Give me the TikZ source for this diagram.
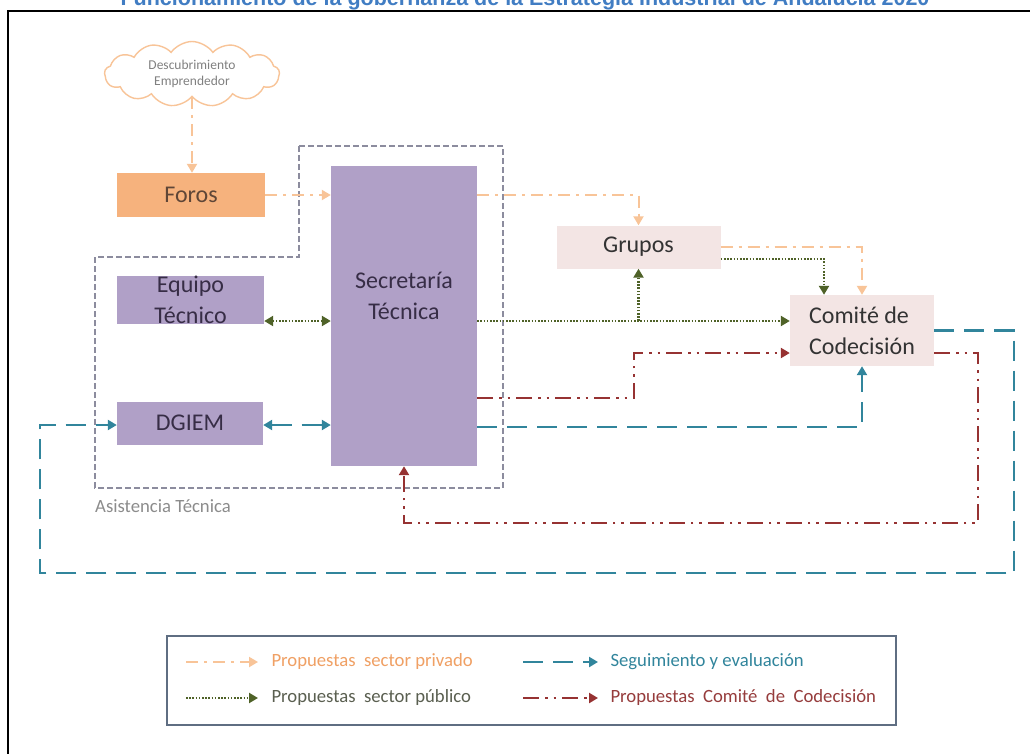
\documentclass[tikz,border=0pt]{standalone}
\usepackage{fontspec}
\setmainfont{Carlito}
\newfontfamily\titlefont{Liberation Sans}
\usetikzlibrary{shapes.symbols,arrows.meta,calc}
\definecolor{cOrange}{RGB}{248,196,152}
\definecolor{cForos}{RGB}{246,178,125}
\definecolor{cForosT}{RGB}{95,70,55}
\definecolor{cPurp}{RGB}{176,160,199}
\definecolor{cPurpT}{RGB}{55,45,70}
\definecolor{cPink}{RGB}{243,229,228}
\definecolor{cGreen}{RGB}{79,98,40}
\definecolor{cRed}{RGB}{150,50,50}
\definecolor{cTeal}{RGB}{49,133,156}
\definecolor{cGray}{RGB}{140,140,158}
\definecolor{cLeg}{RGB}{95,110,130}
\definecolor{cTitle}{RGB}{65,125,195}
\definecolor{cOrT}{RGB}{240,160,100}
\definecolor{cGrT}{RGB}{90,95,80}
\definecolor{cRdT}{RGB}{150,60,60}
\begin{document}
\begin{tikzpicture}[x=1pt,y=-1pt,
  tip/.style={-{Triangle[length=9pt,width=10pt]}},
  dtip/.style={{Triangle[length=9pt,width=10pt]}-{Triangle[length=9pt,width=10pt]}},
  priv/.style={draw=cOrange,line width=2pt,dash pattern=on 12pt off 6pt on 3pt off 6pt,tip},
  pub/.style={draw=cGreen,line width=2.2pt,dash pattern=on 1.6pt off 1.6pt,tip},
  cod/.style={draw=cRed,line width=2.5pt,dash pattern=on 16pt off 6pt on 2.5pt off 6pt on 2.5pt off 6pt,tip},
  seg/.style={draw=cTeal,line width=2.5pt,dash pattern=on 20pt off 10pt,tip},
  bigtxt/.style={font=\fontsize{24}{31}\selectfont,align=center},
  purp/.style={fill=cPurp,inner sep=0pt,text=cPurpT,bigtxt},
  pinkbox/.style={fill=cPink,inner sep=0pt,text=black!80,bigtxt},
  legtxt/.style={anchor=west,font=\fontsize{18.7}{21}\selectfont}]
\useasboundingbox (0,0) rectangle (1030,753);
\clip (0,0) rectangle (1030,753);
\fill[white] (0,0) rectangle (1030,753);
% title (cut at top, as in the reference)
\node[anchor=base,inner sep=0pt,text=cTitle,font=\titlefont\bfseries\fontsize{21.5}{24}\selectfont] (title) at (525,5) {Funcionamiento de la gobernanza de la Estrategia Industrial de Andaluc\'ia 2020};
% frame
\draw[line width=2pt] (8,760) -- (8,11) -- (1040,11);
% cloud
\node[cloud,cloud puffs=13,cloud puff arc=110,aspect=2.7,draw=cOrange,line width=1.4pt,fill=white,minimum width=175pt,minimum height=65pt,inner sep=0pt,align=center,text=black!50,font=\fontsize{13.5}{16}\selectfont] (cloud) at (192,74) {Descubrimiento\\Emprendedor};
% asistencia box
\draw[draw=cGray,line width=1.5pt,dash pattern=on 6pt off 3pt] (299,146) -- (503,146) -- (503,488) -- (95,488) -- (95,257) -- (299,257) -- cycle;
\node[anchor=west,inner sep=0pt,text=black!45,font=\fontsize{18.7}{21}\selectfont] (asis) at (95,506) {Asistencia T\'ecnica};
% boxes
\node[fill=cForos,inner sep=0pt,text=cForosT,bigtxt,minimum width=148pt,minimum height=44pt] (foros) at (191,195) {Foros};
\node[purp,minimum width=146pt,minimum height=300pt] (sec) at (404,316) {};
\node[inner sep=0pt,text=cPurpT,bigtxt] (sectxt) at (404,296) {Secretar\'ia\\T\'ecnica};
\node[purp,minimum width=147pt,minimum height=46pt] (equipo) at (190.5,300) {Equipo\\T\'ecnico};
\node[purp,minimum width=146pt,minimum height=43pt] (dgiem) at (190,423) {DGIEM};
\node[pinkbox,minimum width=164pt,minimum height=43pt] (grupos) at (638.5,247) {Grupos};
\node[pinkbox,align=left,minimum width=144pt,minimum height=71pt] (comite) at (862,330.5) {Comit\'e de\\Codecisi\'on};
% helper coordinates
\coordinate (yg) at (0,321);
\coordinate (yg2) at (0,259);
\coordinate (yr) at (0,398);
\coordinate (rk) at (634,353);
\coordinate (yt) at (0,425);
\coordinate (yt2) at (0,427);
\coordinate (tr) at (1014,573);
\coordinate (tl) at (40,425);
\coordinate (rr) at (978,523);
% orange connectors
\draw[priv] (cloud.south) -- (cloud.south |- foros.north);
\draw[priv] (foros.east) -- (foros.east -| sec.west);
\draw[priv] (foros.east -| sec.east) -| (grupos.north);
\draw[priv] (grupos.east) -| (comite.north);
% green connectors
\draw[pub,dtip] (equipo.east |- yg) -- (sec.west |- yg);
\draw[pub] (sec.east |- yg) -- (comite.west |- yg);
\draw[pub] (grupos.south |- yg) -- (grupos.south);
\draw[pub] (grupos.east |- yg2) -| ($(comite.north)+(-38,0)$);
% red connectors
\draw[cod] (sec.east |- yr) -| (rk) -- (comite.west |- rk);
\draw[cod] (comite.east |- rk) -| (rr) -| (sec.south);
% teal connectors
\draw[seg,dtip] (dgiem.east |- yt) -- (sec.west |- yt);
\draw[seg] (sec.east |- yt2) -| (comite.south);
\draw[seg] (comite.east) -| (tr) -| (tl) -- (dgiem.west |- tl);
% legend
\node[draw=cLeg,line width=1.6pt,minimum width=729pt,minimum height=89pt,inner sep=0pt] (legend) at (531.5,680.5) {};
\coordinate (l1a) at (186,662); \coordinate (l1b) at (258,662);
\coordinate (l2a) at (186,698); \coordinate (l2b) at (258,698);
\coordinate (l3a) at (523,662); \coordinate (l3b) at (598,662);
\coordinate (l4a) at (523,698); \coordinate (l4b) at (598,698);
\draw[priv] (l1a) -- (l1b);
\draw[pub] (l2a) -- (l2b);
\draw[seg] (l3a) -- (l3b);
\draw[cod] (l4a) -- (l4b);
\node[legtxt,text=cOrT] (t1) at (268,662) {Propuestas\ \ sector privado};
\node[legtxt,text=cGrT] (t2) at (268,698) {Propuestas\ \ sector p\'ublico};
\node[legtxt,text=cTeal] (t3) at (607,662) {Seguimiento y evaluaci\'on};
\node[legtxt,text=cRdT] (t4) at (607,698) {Propuestas\ \ Comit\'e\ \ de\ \ Codecisi\'on};
\end{tikzpicture}
\end{document}
